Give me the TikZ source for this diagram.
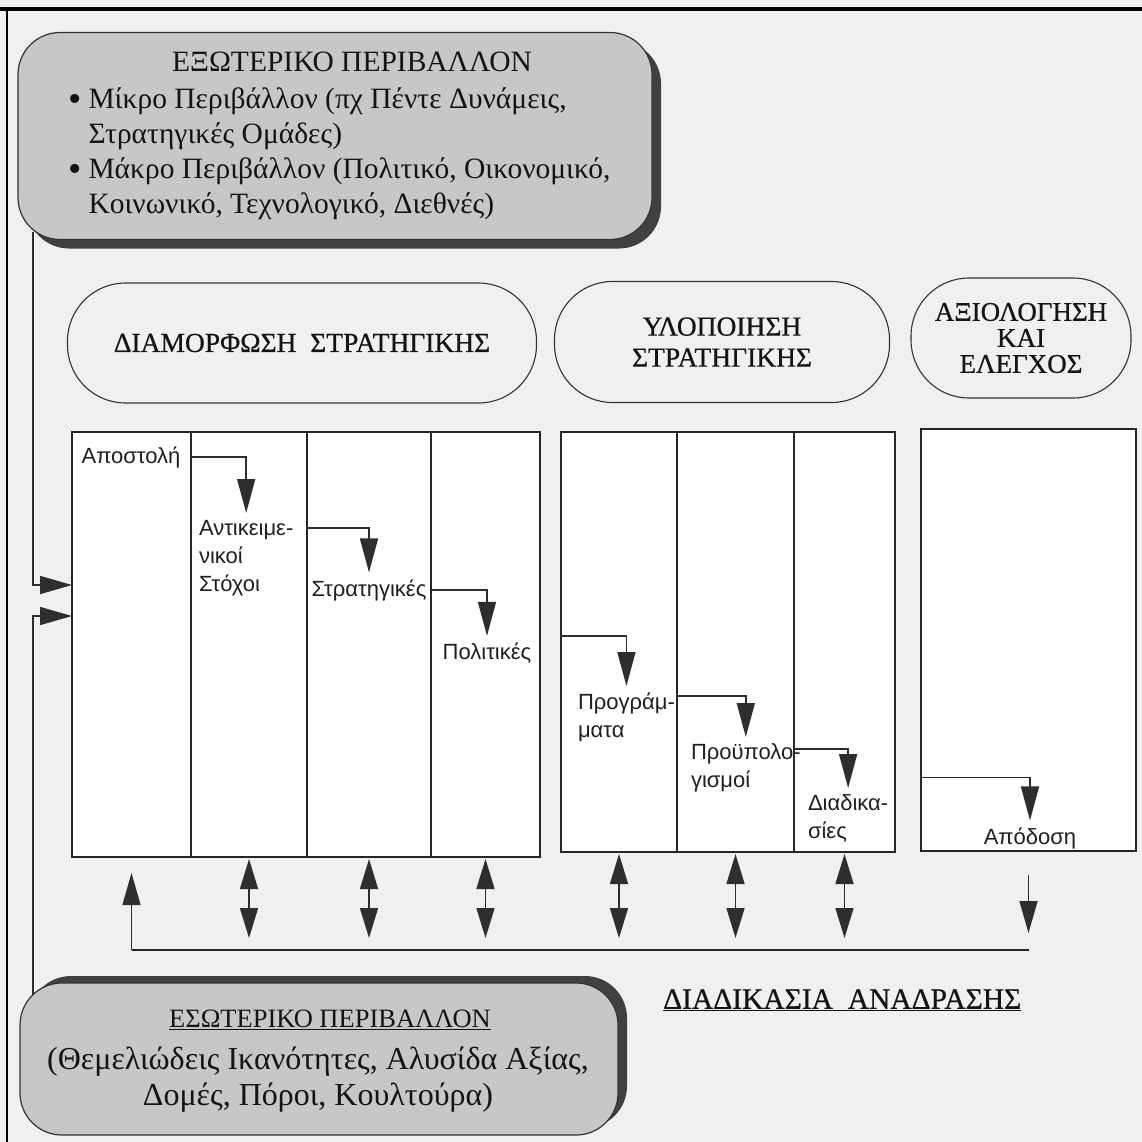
\documentclass[tikz,border=0pt]{standalone}
\usepackage{fontspec}
\setmainfont{Liberation Serif}
\setsansfont{Liberation Sans}
\newfontfamily\headfont{Liberation Serif}[FakeBold=0.6]
\usetikzlibrary{
  arrows.meta,
  positioning,
  shadows
}
\tikzset{
  envbox/.style={draw=black!80, line width=1.2pt, fill=black!22, rounded corners=42pt},
  envtext/.style={font=\fontsize{29.5}{35}\selectfont, text=black!92, inner sep=0pt},
  stagebox/.style={draw=black!80, line width=1.1pt, rounded corners=58pt, align=center,
    font=\headfont\fontsize{27.5}{31}\selectfont, text=black!92},
  colbox/.style={draw=black!85, line width=1.5pt, fill=white, inner sep=0pt, outer sep=0pt},
  steplabel/.style={font=\sffamily\fontsize{22}{28}\selectfont, align=left, text=black!88,
    inner sep=3pt, outer sep=4pt},
  flowline/.style={draw=black!85, line width=1.5pt},
  steparrow/.style={flowline, -{Triangle[length=34pt, width=18pt]}, black!82},
  tipline/.style={flowline, -{Triangle[length=32pt, width=18pt]}, black!82},
  twoway/.style={flowline, {Triangle[length=30pt, width=18pt]}-{Triangle[length=30pt, width=18pt]}, black!82}
}
\newcommand{\bigdot}{\raisebox{-0.1em}{\fontsize{38}{35}\selectfont\textbullet}}

\begin{document}
\begin{tikzpicture}[x=1pt, y=-1pt]
  \useasboundingbox (0,0) rectangle (1142,1142);
  \fill[black!6] (0,0) rectangle (1142,1142);
  % scan frame
  \draw[line width=4pt] (0,9) -- (1142,9);
  \draw[line width=2.5pt] (7,9) -- (7,1142);

  % environment
  \node[envbox, minimum width=634pt, minimum height=207pt,
    general shadow={fill=black!75, shadow xshift=9pt, shadow yshift=-9pt}] (ext) at (335,136) {};
  \node[envtext] (extname) at (352,62) {ΕΞΩΤΕΡΙΚΟ ΠΕΡΙΒΑΛΛΟΝ};
  \node[envtext, anchor=west] (extlist) at (68,154) {%
    \begin{tabular}{@{}l@{\hspace{7pt}}l@{}}
      \bigdot & Μίκρο Περιβάλλον (πχ Πέντε Δυνάμεις,\\
              & Στρατηγικές Ομάδες)\\
      \bigdot & Μάκρο Περιβάλλον (Πολιτικό, Οικονομικό,\\
              & Κοινωνικό, Τεχνολογικό, Διεθνές)
    \end{tabular}};

  \node[envbox, minimum width=598pt, minimum height=152pt,
    general shadow={fill=black!75, shadow xshift=9pt, shadow yshift=7pt}] (int) at (319,1059) {};
  \node[envtext, font=\fontsize{26.5}{30}\selectfont] (intname) at (330,1020)
    {\underline{ΕΣΩΤΕΡΙΚΟ ΠΕΡΙΒΑΛΛΟΝ}};
  \node[envtext, align=center, font=\fontsize{32}{36}\selectfont] (intlist) at (318,1080) {%
    (Θεμελιώδεις Ικανότητες, Αλυσίδα Αξίας,\\
    Δομές, Πόροι, Κουλτούρα)};

  % stages
  \node[stagebox, minimum width=469pt, minimum height=120pt] (formulation) at (302,343)
    {ΔΙΑΜΟΡΦΩΣΗ\ \ ΣΤΡΑΤΗΓΙΚΗΣ};
  \node[stagebox, minimum width=335pt, minimum height=121pt] (implementation) at (722,342)
    {ΥΛΟΠΟΙΗΣΗ\\ΣΤΡΑΤΗΓΙΚΗΣ};
  \node[stagebox, minimum width=220pt, minimum height=120pt,
    font=\headfont\fontsize{27}{26}\selectfont] (evaluation) at (1021,338)
    {ΑΞΙΟΛΟΓΗΣΗ\\ΚΑΙ\\ΕΛΕΓΧΟΣ};

  % columns
  \node[colbox, anchor=north west, minimum width=119pt, minimum height=425pt] (fcol1) at (72,432) {};
  \node[colbox, minimum width=116pt, minimum height=425pt, right=0pt of fcol1] (fcol2) {};
  \node[colbox, minimum width=124pt, minimum height=425pt, right=0pt of fcol2] (fcol3) {};
  \node[colbox, minimum width=109pt, minimum height=425pt, right=0pt of fcol3] (fcol4) {};
  \node[colbox, anchor=north west, minimum width=116pt, minimum height=420pt] (icol1) at (561,432) {};
  \node[colbox, minimum width=117pt, minimum height=420pt, right=0pt of icol1] (icol2) {};
  \node[colbox, minimum width=101pt, minimum height=420pt, right=0pt of icol2] (icol3) {};
  \node[colbox, anchor=north west, minimum width=215pt, minimum height=422pt] (ecol) at (921,429) {};

  % steps
  \node[steplabel] (mission) at (131,457) {Αποστολή};
  \node[steplabel, anchor=north west] (goals) at (192,513) {Αντικειμε-\\νικοί\\Στόχοι};
  \node[steplabel] (strategies) at (369,590) {Στρατηγικές};
  \node[steplabel] (policies) at (487,653) {Πολιτικές};
  \node[steplabel, anchor=north west] (programs) at (571,686) {Προγράμ-\\ματα};
  \node[steplabel, anchor=north west] (budgets) at (684,737) {Προϋπολο-\\γισμοί};
  \node[steplabel, anchor=north west] (procedures) at (801,788) {Διαδικα-\\σίες};
  \node[steplabel] (performance) at (1030,838) {Απόδοση};

  \coordinate (goalsline) at ([yshift=-15pt]goals.north);
  \coordinate (progline) at ([yshift=-10pt]programs.north);
  \coordinate (budgline) at ([yshift=-12pt]budgets.north);
  \coordinate (perfline) at ([yshift=43pt]performance.north);

  \draw[steparrow] (mission -| fcol1.east) -| (goals.north);
  \draw[steparrow] (goalsline -| fcol2.east) -| (strategies.north);
  \draw[steparrow] (strategies -| fcol3.east) -| (policies.north);
  \draw[steparrow] (policies.north -| icol1.west) -| (programs.north);
  \draw[steparrow] (progline -| icol2.west) -| (budgets.north);
  \draw[steparrow] (budgline -| icol3.west) -| (procedures.north);
  \draw[steparrow] (perfline -| ecol.west) -| (performance.north);

  % inputs from the environment
  \coordinate (rail) at (33,0);
  \coordinate (inA) at (0,585);
  \coordinate (inB) at (0,616);
  \draw[tipline, shorten <=-8pt] (ext.south -| rail) |- (inA -| fcol1.west);
  \draw[tipline, shorten <=-13pt] (int.north -| rail) |- (inB -| fcol1.west);

  % feedback
  \coordinate (fb) at (0,950);
  \draw[flowline] (fcol1.south |- fb) -- (ecol.south |- fb);
  \draw[tipline, shorten >=16pt] (fcol1.south |- fb) -- (fcol1.south);
  \foreach \c in {fcol2,fcol3,fcol4,icol1,icol2,icol3}
    \draw[twoway, shorten <=2pt, shorten >=12pt] (\c.south) -- (\c.south |- fb);
  \draw[tipline, shorten <=24pt, shorten >=17pt] (ecol.south) -- (ecol.south |- fb);
  \node[envtext, font=\headfont\fontsize{29.5}{35}\selectfont, anchor=west] (feedback) at (663,1000)
    {\underline{ΔΙΑΔΙΚΑΣΙΑ\ \ ΑΝΑΔΡΑΣΗΣ}};
\end{tikzpicture}
\end{document}
